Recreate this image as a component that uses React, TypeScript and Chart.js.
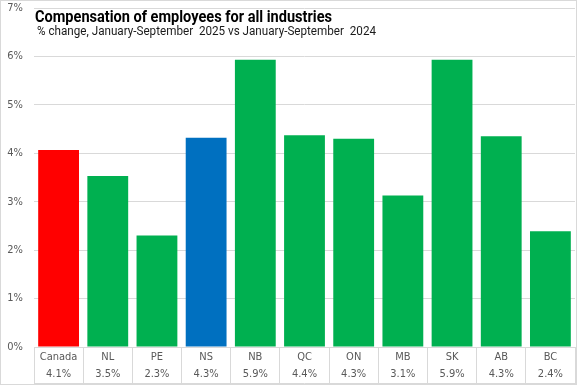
import React, { useEffect, useRef } from "react";
import { Chart, registerables } from "chart.js";

Chart.register(...registerables);

const categories = ["Canada", "NL", "PE", "NS", "NB", "QC", "ON", "MB", "SK", "AB", "BC"];
const values = [4.07, 3.53, 2.3, 4.32, 5.93, 4.37, 4.3, 3.13, 5.93, 4.35, 2.39];
const tableValues = ["4.1%", "3.5%", "2.3%", "4.3%", "5.9%", "4.4%", "4.3%", "3.1%", "5.9%", "4.3%", "2.4%"];
const barColors = ["#ff0000", "#00b050", "#00b050", "#0070c0", "#00b050", "#00b050", "#00b050", "#00b050", "#00b050", "#00b050", "#00b050"];
const yTicks = [0, 1, 2, 3, 4, 5, 6, 7];
const titleText = "Compensation of employees for all industries";
const subtitleText = "% change, January-September  2025 vs January-September  2024";

const GRID = "#d9d9d9";
const TEXT = "#595959";
const FONT = "'DejaVu Sans Condensed', 'Roboto', sans-serif";
const TITLE_FONT = "'Roboto', 'DejaVu Sans', sans-serif";

function fitText(ctx: any, text: string, x: number, y: number, width: number) {
  const w = ctx.measureText(text).width;
  const sx = w > 0 ? width / w : 1;
  ctx.save();
  ctx.translate(x, y);
  ctx.scale(sx, 1);
  ctx.fillText(text, 0, 0);
  ctx.restore();
}

const overlayPlugin = {
  id: "overlay",
  afterDraw(chart: any) {
    const ctx = chart.ctx;
    const x = chart.scales.x;
    const area = chart.chartArea;
    ctx.save();
    // bottom line of data table
    ctx.strokeStyle = GRID;
    ctx.lineWidth = 1;
    ctx.beginPath();
    ctx.moveTo(area.left, Math.round(x.bottom) - 0.5);
    ctx.lineTo(area.right, Math.round(x.bottom) - 0.5);
    ctx.stroke();
    // title
    ctx.textBaseline = "alphabetic";
    ctx.textAlign = "left";
    ctx.fillStyle = "#000000";
    ctx.font = `bold 16px ${TITLE_FONT}`;
    fitText(ctx, titleText, area.left + 1, area.top + 14, 297);
    ctx.font = `12px ${TITLE_FONT}`;
    ctx.fillStyle = "#1a1a1a";
    fitText(ctx, subtitleText, area.left + 3, area.top + 27, 339);
    ctx.restore();
  },
};

export default function App() {
  const ref = useRef<HTMLCanvasElement | null>(null);

  useEffect(() => {
    if (!ref.current) return;
    const chart = new Chart(ref.current, {
      type: "bar",
      data: {
        labels: categories.map((c, i) => [c, tableValues[i]]),
        datasets: [
          {
            data: values,
            backgroundColor: barColors,
            borderWidth: 0,
            categoryPercentage: 1,
            barPercentage: 0.83,
          },
        ],
      },
      options: {
        animation: false,
        responsive: false,
        maintainAspectRatio: false,
        layout: { padding: { top: 7, right: 1, bottom: 0, left: 0 } },
        plugins: {
          legend: { display: false },
          title: { display: false },
          tooltip: { enabled: false },
        },
        scales: {
          x: {
            grid: {
              display: true,
              drawOnChartArea: false,
              drawTicks: true,
              tickLength: 38,
              color: GRID,
              offset: true,
            },
            border: { display: true, color: GRID },
            ticks: {
              color: TEXT,
              font: { family: FONT, size: 11, lineHeight: 1.6 },
              padding: -37,
              maxRotation: 0,
              autoSkip: false,
            },
            afterFit: (s: any) => {
              s.height = 37;
              s.paddingTop = 0;
              s.paddingBottom = 0;
            },
          },
          y: {
            min: 0,
            max: 7,
            afterBuildTicks: (s: any) => {
              s.ticks = yTicks.map((v) => ({ value: v }));
            },
            grid: { color: GRID, drawTicks: false },
            border: { display: false },
            ticks: {
              color: TEXT,
              font: { family: FONT, size: 11 },
              padding: 11,
              callback: (v: any) => `${v}%`,
            },
            afterFit: (s: any) => {
              s.width = 33;
              s.paddingTop = 0;
              s.paddingBottom = 0;
            },
          },
        },
      },
      plugins: [overlayPlugin],
    });
    return () => chart.destroy();
  }, []);

  return (
    <div
      style={{
        position: "fixed",
        left: 0,
        top: 0,
        width: 577,
        height: 385,
        boxSizing: "border-box",
        border: "1px solid #d9d9d9",
        background: "#ffffff",
      }}
    >
      <canvas ref={ref} width={575} height={383} style={{ display: "block" }} />
    </div>
  );
}
